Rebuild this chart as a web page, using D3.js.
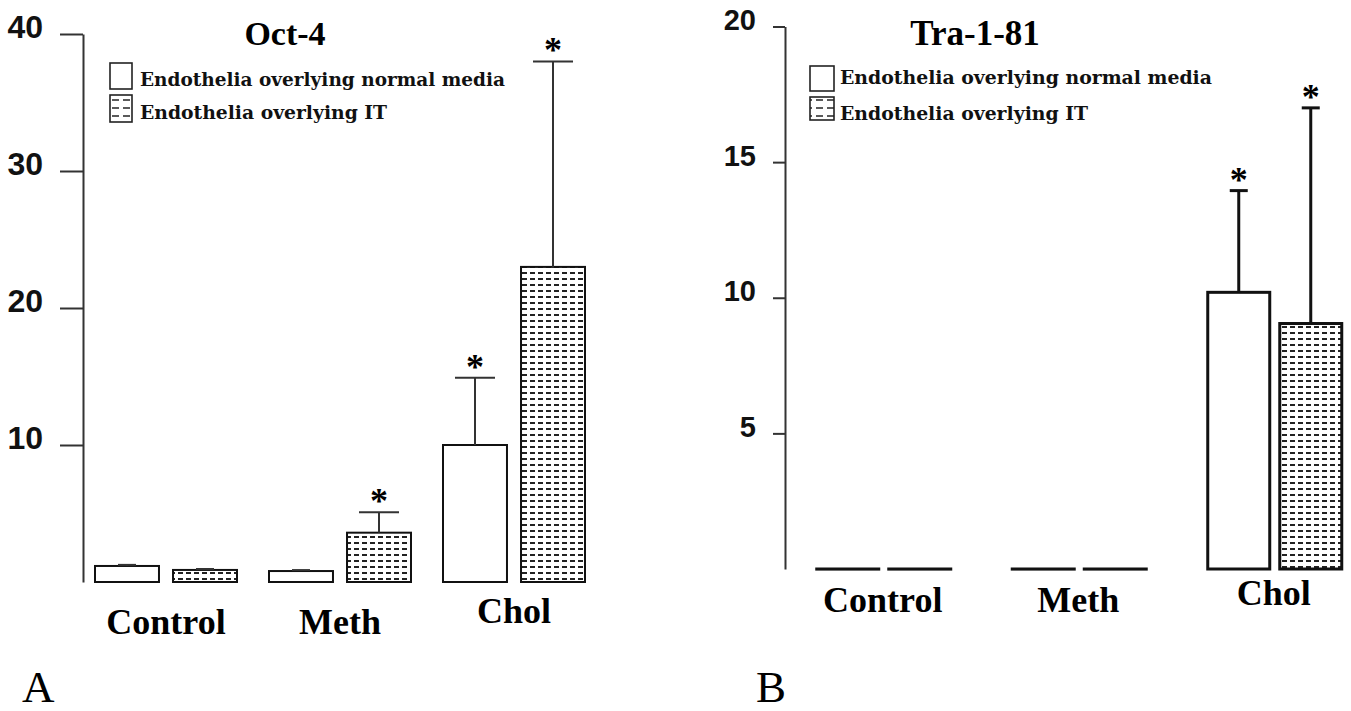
<!DOCTYPE html>
<html>
<head>
<meta charset="utf-8">
<script src="https://cdn.jsdelivr.net/npm/d3@7"></script>
<style>
	body { margin: 0; background: #fff; }
	svg { display: block; }
</style>
</head>
<body>
<div id="viewport"></div>
<script>
// categories and series
var groups = ["Control", "Meth", "Chol"];
var seriesNames = ["Endothelia overlying normal media", "Endothelia overlying IT"];

// Oct-4 (panel A)
var oct4Normal    = [1.17, 0.8, 10.0];
var oct4NormalErr = [0.08, 0.07, 4.9];
var oct4IT        = [0.88, 3.6, 23.0];
var oct4ITErr     = [0.07, 1.5, 15.0];
var oct4NormalSig = [false, false, true];
var oct4ITSig     = [false, true, true];
var oct4Ticks     = [10, 20, 30, 40];

// Tra-1-81 (panel B)
var traNormal    = [0, 0, 10.2];
var traNormalErr = [0, 0, 3.75];
var traIT        = [0, 0, 9.05];
var traITErr     = [0, 0, 7.95];
var traNormalSig = [false, false, true];
var traITSig     = [false, false, true];
var traTicks     = [5, 10, 15, 20];

var svg = d3.select("#viewport").append("svg")
			.attr("width", 1351)
			.attr("height", 711);

var defs = svg.append("defs");

//dashed fill used by the IT bars
function makePattern(id, w, h, dash, sw){
	var p = defs.append("pattern")
				.attr("id", id)
				.attr("patternUnits", "userSpaceOnUse")
				.attr("width", w)
				.attr("height", h);
	p.append("rect").attr("width", w).attr("height", h).attr("fill", "#fff");
	p.append("line")
		.attr("x1", Math.round((w - dash) / 2)).attr("x2", Math.round((w - dash) / 2) + dash)
		.attr("y1", h / 2).attr("y2", h / 2)
		.attr("stroke", "#222")
		.attr("stroke-width", sw);
}
makePattern("dashA", 8, 6, 5, 2);
makePattern("dashB", 8, 6, 5, 2);
makePattern("dashLeg", 11, 8, 7, 1.5);

function drawPanel(cfg){
	var g = svg.append("g");

	var y = d3.scaleLinear().domain(cfg.domain).range([cfg.y0, cfg.yTop]);
	var x = d3.scaleBand().domain(groups).range(cfg.bandRange).padding(0);
	var xs = d3.scaleBand().domain([0, 1]).range(cfg.subRange).paddingInner(cfg.subPad).paddingOuter(0);

	//y axis
	var axis = d3.axisLeft(y)
				.tickValues(cfg.ticks)
				.tickSize(cfg.tickLen)
				.tickSizeOuter(0)
				.tickPadding(17)
				.tickFormat(d3.format("d"));
	var ag = g.append("g")
			.attr("transform", "translate(" + cfg.axisX + ",0)")
			.call(axis);
	ag.select(".domain").attr("stroke", "#333").attr("stroke-width", 2);
	ag.selectAll(".tick line").attr("stroke", "#333").attr("stroke-width", 2);
	ag.selectAll(".tick text")
		.attr("dy", "0.1em")
		.attr("fill", "#111")
		.style("font-family", "'Liberation Sans', Arial, sans-serif")
		.style("font-weight", "bold")
		.style("font-size", cfg.tickFont + "px");

	//bars
	var rows = [];
	groups.forEach(function(grp, i){
		rows.push({grp: grp, s: 0, v: cfg.normal[i], e: cfg.normalErr[i], sig: cfg.normalSig[i]});
		rows.push({grp: grp, s: 1, v: cfg.it[i], e: cfg.itErr[i], sig: cfg.itSig[i]});
	});

	function bx(d){ return x(d.grp) + xs(d.s); }
	function cx(d){ return bx(d) + xs.bandwidth() / 2; }

	g.append("g").selectAll("rect").data(rows).enter().append("rect")
		.attr("x", bx)
		.attr("y", function(d){ return y(d.v); })
		.attr("width", xs.bandwidth())
		.attr("height", function(d){ return Math.max(0.1, y(0) - y(d.v)); })
		.attr("fill", function(d){ return d.s == 1 ? "url(#" + cfg.pattern + ")" : "#fff"; })
		.attr("stroke", "#111")
		.attr("stroke-width", cfg.barStroke);

	//error bars
	var errs = rows.filter(function(d){ return d.e > 0; });
	var eg = g.append("g").attr("stroke", cfg.errColor).attr("stroke-width", cfg.errStroke);
	eg.selectAll("line.v").data(errs).enter().append("line")
		.attr("class", "v")
		.attr("x1", cx).attr("x2", cx)
		.attr("y1", function(d){ return y(d.v); })
		.attr("y2", function(d){ return y(d.v + d.e); });
	eg.selectAll("line.c").data(errs).enter().append("line")
		.attr("class", "c")
		.attr("x1", function(d){ return cx(d) - (d.e < 0.5 ? 9 : cfg.capW / 2); })
		.attr("x2", function(d){ return cx(d) + (d.e < 0.5 ? 9 : cfg.capW / 2); })
		.attr("y1", function(d){ return y(d.v + d.e); })
		.attr("y2", function(d){ return y(d.v + d.e); });

	//significance stars
	g.append("g").selectAll("text").data(rows.filter(function(d){ return d.sig; })).enter().append("text")
		.attr("x", cx)
		.attr("y", function(d){ return y(d.v + d.e) + 1; })
		.attr("text-anchor", "middle")
		.style("font-family", "'Liberation Serif', 'Times New Roman', serif")
		.style("font-weight", "bold")
		.style("font-size", "36px")
		.text("*");

	//group labels
	g.append("g").selectAll("text").data(groups).enter().append("text")
		.attr("x", function(d){ return x(d) + x.bandwidth() / 2; })
		.attr("y", function(d, i){ return cfg.labelY - (i == groups.length - 1 ? cfg.lastLift : 0); })
		.attr("text-anchor", "middle")
		.style("font-family", "'Liberation Serif', 'Times New Roman', serif")
		.style("font-weight", "bold")
		.style("font-size", "36px")
		.text(function(d){ return d; });

	//title
	g.append("text")
		.attr("x", cfg.titleX)
		.attr("y", 45)
		.attr("text-anchor", "middle")
		.style("font-family", "'Liberation Serif', 'Times New Roman', serif")
		.style("font-weight", "bold")
		.style("font-size", cfg.titleFont + "px")
		.text(cfg.title);

	//legend
	var lg = g.append("g");
	seriesNames.forEach(function(name, i){
		lg.append("rect")
			.attr("x", cfg.legX)
			.attr("y", cfg.legY[i])
			.attr("width", cfg.legW)
			.attr("height", cfg.legH[i])
			.attr("fill", i == 1 ? "url(#dashLeg)" : "#fff")
			.attr("stroke", "#222")
			.attr("stroke-width", 1.6);
		lg.append("text")
			.attr("x", cfg.legTextX)
			.attr("y", cfg.legBase[i])
			.attr("textLength", cfg.legLen[i])
			.attr("lengthAdjust", "spacingAndGlyphs")
			.style("font-family", "'DejaVu Serif', serif")
			.style("font-weight", "bold")
			.style("font-size", "18px")
			.attr("fill", "#111")
			.text(name);
	});

	//panel letter
	g.append("text")
		.attr("x", cfg.letterX)
		.attr("y", 702)
		.style("font-family", "'Liberation Serif', 'Times New Roman', serif")
		.style("font-size", "45px")
		.text(cfg.letter);
}

drawPanel({
	normal: oct4Normal, normalErr: oct4NormalErr, it: oct4IT, itErr: oct4ITErr,
	normalSig: oct4NormalSig, itSig: oct4ITSig, ticks: oct4Ticks,
	domain: [0, 40], y0: 582, yTop: 34,
	axisX: 83, tickLen: 23, tickFont: 32,
	bandRange: [79, 601], subRange: [16, 158], subPad: 0.18,
	pattern: "dashA", barStroke: 2, errStroke: 2, errColor: "#333", capW: 40,
	labelY: 634, lastLift: 11,
	title: "Oct-4", titleX: 285, titleFont: 34,
	legX: 110, legW: 22, legY: [63, 95], legH: [26, 27], legTextX: 140,
	legBase: [86, 119], legLen: [365, 247],
	letter: "A", letterX: 22
});

drawPanel({
	normal: traNormal, normalErr: traNormalErr, it: traIT, itErr: traITErr,
	normalSig: traNormalSig, itSig: traITSig, ticks: traTicks,
	domain: [0, 20], y0: 569, yTop: 26.5,
	axisX: 785, tickLen: 12, tickFont: 29,
	bandRange: [785, 1371.5], subRange: [31.75, 165.75], subPad: 0.139,
	pattern: "dashB", barStroke: 3, errStroke: 3, errColor: "#111", capW: 18,
	labelY: 612, lastLift: 7,
	title: "Tra-1-81", titleX: 975, titleFont: 35,
	legX: 810, legW: 24, legY: [66, 97], legH: [25, 23], legTextX: 840,
	legBase: [84, 120], legLen: [372, 248],
	letter: "B", letterX: 756
});
</script>
</body>
</html>
